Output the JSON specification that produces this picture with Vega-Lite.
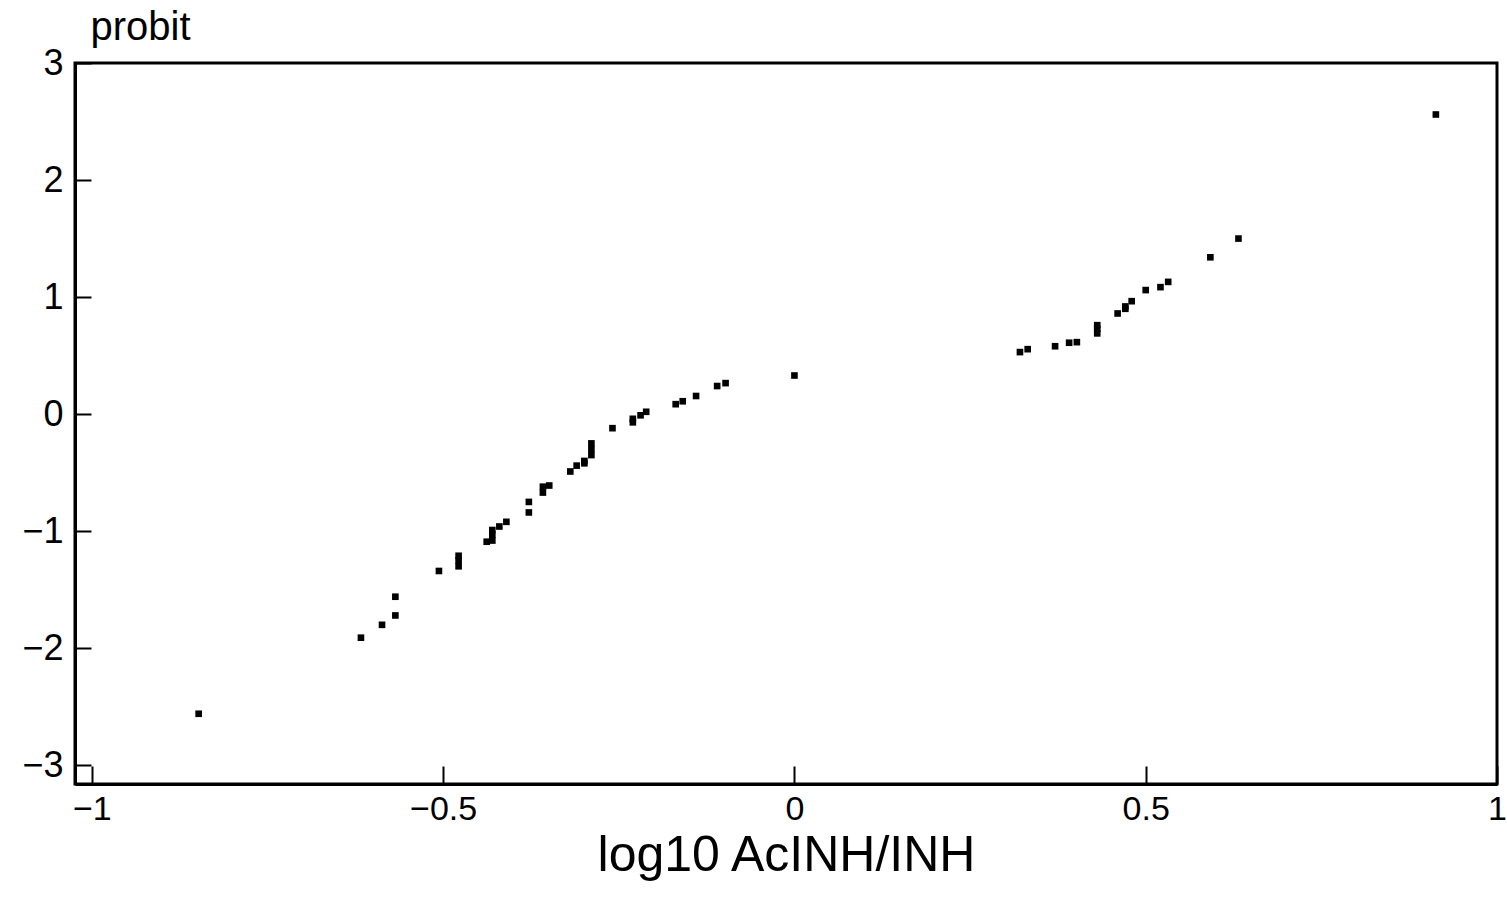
{
  "$schema": "https://vega.github.io/schema/vega-lite/v6.json",
  "width": 1422,
  "height": 721,
  "autosize": "none",
  "padding": {"left": 75, "top": 63, "right": 10, "bottom": 124},
  "background": "white",
  "config": {
    "view": {"stroke": "black", "strokeWidth": 3},
    "font": "Liberation Sans"
  },
  "data": {
    "values": [
      {"x": -0.848, "y": -2.56},
      {"x": -0.617, "y": -1.91},
      {"x": -0.587, "y": -1.80},
      {"x": -0.568, "y": -1.72},
      {"x": -0.568, "y": -1.56},
      {"x": -0.506, "y": -1.34},
      {"x": -0.478, "y": -1.21},
      {"x": -0.478, "y": -1.25},
      {"x": -0.478, "y": -1.30},
      {"x": -0.438, "y": -1.09},
      {"x": -0.430, "y": -0.99},
      {"x": -0.430, "y": -1.03},
      {"x": -0.430, "y": -1.08},
      {"x": -0.420, "y": -0.96},
      {"x": -0.410, "y": -0.92},
      {"x": -0.378, "y": -0.75},
      {"x": -0.378, "y": -0.84},
      {"x": -0.358, "y": -0.62},
      {"x": -0.358, "y": -0.67},
      {"x": -0.349, "y": -0.61},
      {"x": -0.319, "y": -0.49},
      {"x": -0.310, "y": -0.44},
      {"x": -0.299, "y": -0.40},
      {"x": -0.299, "y": -0.42},
      {"x": -0.289, "y": -0.25},
      {"x": -0.289, "y": -0.30},
      {"x": -0.289, "y": -0.35},
      {"x": -0.259, "y": -0.12},
      {"x": -0.230, "y": -0.04},
      {"x": -0.230, "y": -0.07},
      {"x": -0.219, "y": -0.01},
      {"x": -0.211, "y": 0.02},
      {"x": -0.169, "y": 0.085},
      {"x": -0.159, "y": 0.11},
      {"x": -0.140, "y": 0.155},
      {"x": -0.110, "y": 0.24},
      {"x": -0.098, "y": 0.265},
      {"x": 0.000, "y": 0.33},
      {"x": 0.321, "y": 0.53},
      {"x": 0.332, "y": 0.555},
      {"x": 0.371, "y": 0.58},
      {"x": 0.391, "y": 0.61},
      {"x": 0.402, "y": 0.615},
      {"x": 0.431, "y": 0.69},
      {"x": 0.431, "y": 0.73},
      {"x": 0.431, "y": 0.76},
      {"x": 0.460, "y": 0.86},
      {"x": 0.471, "y": 0.90},
      {"x": 0.471, "y": 0.92},
      {"x": 0.480, "y": 0.965},
      {"x": 0.500, "y": 1.06},
      {"x": 0.521, "y": 1.085},
      {"x": 0.532, "y": 1.13},
      {"x": 0.592, "y": 1.34},
      {"x": 0.632, "y": 1.50},
      {"x": 0.913, "y": 2.56}
    ]
  },
  "mark": {"type": "point", "shape": "square", "filled": true, "color": "black", "size": 44, "opacity": 1},
  "encoding": {
    "x": {
      "field": "x",
      "type": "quantitative",
      "scale": {"domain": [-1.024, 1], "nice": false, "zero": false},
      "axis": {
        "values": [-1, -0.5, 0, 0.5, 1],
        "format": "~g",
        "grid": false,
        "domainColor": "black",
        "domainWidth": 3,
        "tickColor": "black",
        "tickWidth": 2,
        "tickSize": -18,
        "labelFontSize": 34,
        "labelColor": "black",
        "labelPadding": 26,
        "labelFlush": false,
        "labelFont": "Liberation Sans",
        "title": "log10 AcINH/INH",
        "titleFont": "Liberation Sans",
        "titleFontSize": 50,
        "titleFontWeight": "normal",
        "titleColor": "black",
        "titlePadding": 4
      }
    },
    "y": {
      "field": "y",
      "type": "quantitative",
      "scale": {"domain": [-3.16, 3], "nice": false, "zero": false},
      "axis": {
        "values": [-3, -2, -1, 0, 1, 2, 3],
        "format": "~g",
        "grid": false,
        "domainColor": "black",
        "domainWidth": 3,
        "tickColor": "black",
        "tickWidth": 2,
        "tickSize": -16,
        "labelFontSize": 36,
        "labelColor": "black",
        "labelPadding": 28,
        "labelFont": "Liberation Sans",
        "title": "probit",
        "titleFont": "Liberation Sans",
        "titleFontSize": 40,
        "titleFontWeight": "normal",
        "titleColor": "black",
        "titleAngle": 0,
        "titleAlign": "left",
        "titleBaseline": "middle",
        "titleX": 15,
        "titleY": -36
      }
    }
  }
}
